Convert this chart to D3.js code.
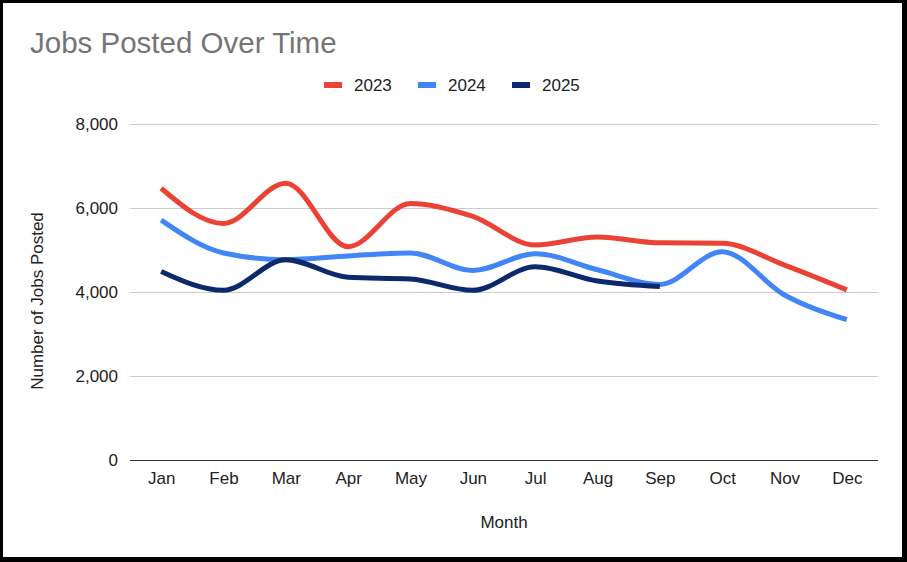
<!DOCTYPE html>
<html>
<head>
<meta charset="utf-8">
<script src="https://cdn.jsdelivr.net/npm/d3@7"></script>
<style>
  body { margin: 0; background: #000; }
  svg { display: block; font-family: "Liberation Sans", Arial, sans-serif; }
</style>
</head>
<body>
<svg id="chart"></svg>
<script>
var width = 907;
var height = 562;

var months = ["Jan", "Feb", "Mar", "Apr", "May", "Jun", "Jul", "Aug", "Sep", "Oct", "Nov", "Dec"];
var jobs2023 = [6470, 5630, 6590, 5080, 6110, 5800, 5120, 5310, 5170, 5160, 4640, 4050];
var jobs2024 = [5710, 4930, 4770, 4860, 4930, 4510, 4910, 4530, 4180, 4960, 3930, 3340];
var jobs2025 = [4490, 4040, 4770, 4350, 4310, 4040, 4600, 4260, 4130];
var yTicks = [0, 2000, 4000, 6000, 8000];

var series = [
    {name: "2023", values: jobs2023, color: "#ea4335"},
    {name: "2024", values: jobs2024, color: "#4285f4"},
    {name: "2025", values: jobs2025, color: "#0c2a6b"}
];

var margin = {top: 124, right: 29, bottom: 102, left: 130};

var svg = d3.select("#chart")
    .attr("width", width)
    .attr("height", height);

// black frame, a bit heavier at right/bottom
svg.append("rect").attr("width", width).attr("height", height).attr("fill", "#000");
svg.append("rect")
    .attr("x", 3).attr("y", 3)
    .attr("width", width - 8).attr("height", height - 8)
    .attr("fill", "#fff");

var x = d3.scalePoint()
    .domain(months)
    .range([margin.left, width - margin.right])
    .padding(0.5);

var y = d3.scaleLinear()
    .domain([0, 8000])
    .range([height - margin.bottom, margin.top]);

// title
svg.append("text")
    .attr("x", 30).attr("y", 53)
    .attr("font-size", "29.5px")
    .attr("fill", "#757575")
    .text("Jobs Posted Over Time");

// gridlines
svg.append("g")
    .selectAll("line")
    .data(yTicks)
    .enter().append("line")
    .attr("x1", margin.left)
    .attr("x2", width - margin.right)
    .attr("y1", function(d) { return y(d) + 0.5; })
    .attr("y2", function(d) { return y(d) + 0.5; })
    .attr("stroke", function(d) { return d === 0 ? "#333" : "#cccccc"; })
    .attr("stroke-width", 1)
    .attr("shape-rendering", "crispEdges");

// y axis labels
var yAxis = d3.axisLeft(y)
    .tickValues(yTicks)
    .tickSize(0)
    .tickPadding(12)
    .tickFormat(d3.format(","));

svg.append("g")
    .attr("transform", "translate(" + margin.left + ",0)")
    .call(yAxis)
    .call(function(g) { g.select(".domain").remove(); })
    .selectAll("text")
    .attr("font-size", "17px")
    .attr("font-family", "Liberation Sans, Arial, sans-serif")
    .attr("fill", "#222");

// x axis labels
var xAxis = d3.axisBottom(x)
    .tickSize(0)
    .tickPadding(12);

svg.append("g")
    .attr("transform", "translate(0," + y(0) + ")")
    .call(xAxis)
    .call(function(g) { g.select(".domain").remove(); })
    .selectAll("text")
    .attr("font-size", "17px")
    .attr("font-family", "Liberation Sans, Arial, sans-serif")
    .attr("fill", "#222");

// axis titles
svg.append("text")
    .attr("x", (margin.left + width - margin.right) / 2)
    .attr("y", 528)
    .attr("text-anchor", "middle")
    .attr("font-size", "17px")
    .attr("fill", "#222")
    .text("Month");

svg.append("text")
    .attr("transform", "translate(43,301) rotate(-90)")
    .attr("text-anchor", "middle")
    .attr("font-size", "17px")
    .attr("fill", "#222")
    .text("Number of Jobs Posted");

// lines
var line = d3.line()
    .x(function(d, i) { return x(months[i]); })
    .y(function(d) { return y(d); })
    .curve(d3.curveMonotoneX);

svg.append("g")
    .selectAll("path")
    .data(series)
    .enter().append("path")
    .attr("d", function(s) { return line(s.values); })
    .attr("fill", "none")
    .attr("stroke", function(s) { return s.color; })
    .attr("stroke-width", 5);

// legend
var legendX = [324, 418, 512];
var legend = svg.append("g")
    .selectAll("g")
    .data(series)
    .enter().append("g")
    .attr("transform", function(s, i) { return "translate(" + legendX[i] + ",85)"; });

legend.append("rect")
    .attr("x", 0).attr("y", -3)
    .attr("width", 18).attr("height", 6)
    .attr("fill", function(s) { return s.color; });

legend.append("text")
    .attr("x", 30).attr("y", 6)
    .attr("font-size", "17px")
    .attr("fill", "#222")
    .text(function(s) { return s.name; });
</script>
</body>
</html>
